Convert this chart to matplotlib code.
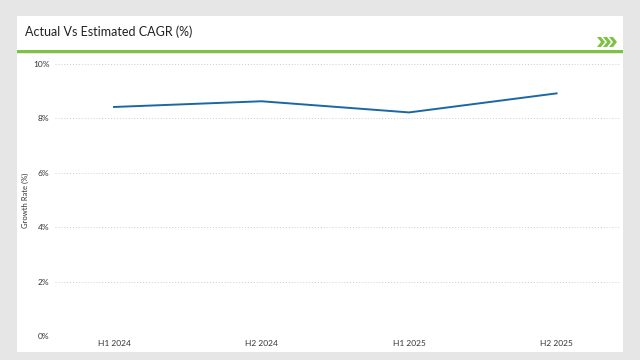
import matplotlib
matplotlib.use("Agg")
import matplotlib.pyplot as plt
from matplotlib.patches import Rectangle, Polygon

periods = ["H1 2024", "H2 2024", "H1 2025", "H2 2025"]
growth = [8.42, 8.63, 8.22, 8.92]
yticks = [0, 2, 4, 6, 8, 10]

plt.rcParams['font.family'] = ['Lato', 'DejaVu Sans']

W, H = 640, 360
fig = plt.figure(figsize=(6.4, 3.6), dpi=100)
fig.patch.set_facecolor("#e6e6e6")

def px(x, y, w, h):
    # pixel box (top-left origin) -> figure fraction
    return (x / W, 1 - (y + h) / H, w / W, h / H)

# title panel and chart panel
for box in [(17, 16, 606, 34), (17, 54, 606, 298)]:
    l, b, w, h = px(*box)
    fig.patches.append(Rectangle((l, b), w, h, transform=fig.transFigure,
                                 facecolor="white", edgecolor="none", zorder=-2))
l, b, w, h = px(17, 50, 606, 3)
fig.patches.append(Rectangle((l, b), w, h, transform=fig.transFigure,
                             facecolor="#7dc242", edgecolor="none", zorder=-1))
fig.text(25 / W, 1 - 32 / H, "Actual Vs Estimated CAGR (%)", fontsize=9,
         color="#222222", va="center", ha="left")

# chevrons
for i in range(3):
    x0 = 597 + i * 6
    pts = [(x0, 37), (x0 + 4, 37), (x0 + 8, 42), (x0 + 4, 47), (x0, 47), (x0 + 4, 42)]
    fig.patches.append(Polygon([(x / W, 1 - y / H) for x, y in pts],
                               closed=True, transform=fig.transFigure,
                               facecolor="#7dc242", edgecolor="none", zorder=-1))

ax = fig.add_axes(px(55, 64, 565, 272))
ax.set_zorder(5)
ax.set_facecolor("none")
x = range(len(periods))
ax.plot(x, growth, color="#1a67a8", lw=1.4)
ax.set_xlim(-0.4, 3.43)
ax.set_ylim(0, 10)
ax.set_yticks(yticks)
ax.set_yticklabels([f"{v}%" for v in yticks], fontsize=6, color="#333333")
ax.set_xticks(list(x))
ax.set_xticklabels(periods, fontsize=6, color="#333333")
ax.tick_params(axis="y", length=0, pad=4)
ax.tick_params(axis="x", length=0, pad=3)
ax.grid(axis="y", linestyle=(0, (1, 2)), color="#cccccc", lw=0.7)
for s in ax.spines.values():
    s.set_visible(False)
ax.set_ylabel("Growth Rate (%)", fontsize=5.5, color="#333333", labelpad=3)

fig.savefig("out.png", dpi=100, facecolor=fig.get_facecolor())
